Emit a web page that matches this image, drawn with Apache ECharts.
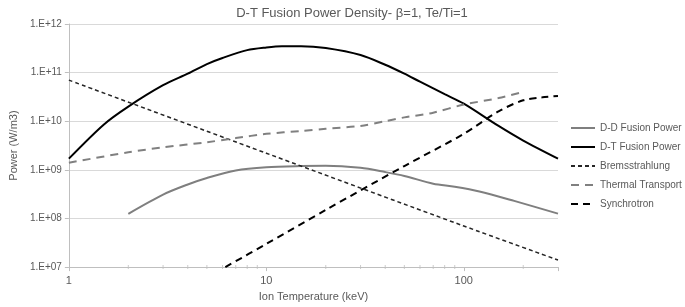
<!DOCTYPE html>
<html>
<head>
<meta charset="utf-8">
<script src="https://cdn.jsdelivr.net/npm/echarts@6/dist/echarts.min.js"></script>
<style>
  html, body { margin: 0; padding: 0; background: #fff; }
  #chart { width: 685px; height: 307px; }
</style>
</head>
<body>
<div id="chart"></div>
<script>
const FONT = '"Liberation Sans", Arial, sans-serif'

// [Ion temperature keV, power W/m3]
const ddFusion = [
  [2, 1.25e8], [3, 3.1e8], [4, 5e8], [5, 6.8e8], [7, 9.7e8], [10, 1.13e9],
  [15, 1.2e9], [20, 1.22e9], [30, 1.1e9], [40, 9e8], [50, 7.5e8], [70, 5.2e8],
  [90, 4.5e8], [120, 3.6e8], [180, 2.3e8], [300, 1.26e8],
]
const dtFusion = [
  [1, 1.7e9], [1.5, 8.5e9], [2, 2e10], [3, 5.5e10], [4, 9.5e10], [5, 1.5e11],
  [6, 2e11], [8, 2.9e11], [10, 3.3e11], [12, 3.5e11], [15, 3.5e11], [20, 3.2e11],
  [30, 2.3e11], [40, 1.45e11], [50, 9.5e10], [60, 6.5e10], [80, 3.6e10],
  [100, 2.3e10], [150, 8e9], [200, 4e9], [300, 1.7e9],
]
const bremsstrahlung = [[1, 7e10], [10, 2.2e9], [100, 7e7], [300, 1.4e7]]
const thermalTransport = [
  [1, 1.4e9], [2, 2.3e9], [3, 2.9e9], [5, 3.7e9], [7, 4.5e9], [10, 5.5e9],
  [15, 6.3e9], [20, 7e9], [30, 8e9], [40, 1e10], [50, 1.2e10], [70, 1.5e10],
  [100, 2.2e10], [150, 3e10], [200, 4e10],
]
const synchrotron = [
  [6.2, 1e7], [10, 3e7], [20, 1.5e8], [50, 1.2e9], [100, 5.5e9], [150, 1.6e10],
  [200, 2.7e10], [250, 3.1e10], [300, 3.3e10],
]
const minorTicks = [2, 3, 4, 5, 6, 7, 8, 9, 20, 30, 40, 50, 60, 70, 80, 90, 200]

const chart = echarts.init(document.getElementById('chart'))

function line(name, data, color, width, dash) {
  return {
    name,
    type: 'line',
    data,
    smooth: 0.3,
    symbol: 'none',
    lineStyle: { color, width, type: dash || 'solid' },
    itemStyle: { color },
  }
}

chart.setOption({
  animation: false,
  textStyle: { fontFamily: FONT, color: '#595959' },
  title: {
    text: 'D-T Fusion Power Density- β=1, Te/Ti=1',
    left: 347,
    top: 2,
    textAlign: 'center',
    textStyle: { fontFamily: FONT, fontSize: 13, fontWeight: 'normal', color: '#595959' },
  },
  grid: { left: 54, right: 127, top: 24, bottom: 37 },
  legend: {
    orient: 'vertical',
    left: 570,
    top: 123,
    padding: 0,
    itemWidth: 24,
    itemHeight: 12,
    itemGap: 9,
    itemStyle: { opacity: 0 },
    textStyle: { fontFamily: FONT, fontSize: 10, color: '#595959' },
    data: ['D-D Fusion Power', 'D-T Fusion Power', 'Bremsstrahlung', 'Thermal Transport', 'Synchrotron'],
  },
  xAxis: {
    type: 'log',
    logBase: 10,
    min: 1,
    max: 300,
    name: 'Ion Temperature (keV)',
    nameLocation: 'middle',
    nameGap: 22,
    nameTextStyle: { fontFamily: FONT, fontSize: 11, color: '#595959' },
    axisLine: { lineStyle: { color: '#bfbfbf' } },
    axisTick: { show: true, length: 4, lineStyle: { color: '#bfbfbf' } },
    axisLabel: {
      fontFamily: FONT, fontSize: 11, color: '#595959', margin: 8,
      formatter: v => ([1, 10, 100].includes(Math.round(v)) ? String(Math.round(v)) : ''),
    },
    splitLine: { show: false },
  },
  yAxis: {
    type: 'log',
    logBase: 10,
    min: 1e7,
    max: 1e12,
    name: 'Power (W/m3)',
    nameLocation: 'middle',
    nameGap: 46,
    nameTextStyle: { fontFamily: FONT, fontSize: 11, color: '#595959' },
    axisLine: { show: true, lineStyle: { color: '#bfbfbf' } },
    axisTick: { show: true, length: 4, lineStyle: { color: '#bfbfbf' } },
    axisLabel: {
      fontFamily: FONT, fontSize: 10, color: '#595959', margin: 7,
      formatter: v => '1.E+' + String(Math.round(Math.log10(v))).padStart(2, '0'),
    },
    splitLine: { lineStyle: { color: '#d9d9d9', width: 1 } },
  },
  series: [
    line('D-D Fusion Power', ddFusion, '#7f7f7f', 2),
    line('D-T Fusion Power', dtFusion, '#000000', 2),
    line('Bremsstrahlung', bremsstrahlung, '#262626', 1.5, [4, 3]),
    line('Thermal Transport', thermalTransport, '#808080', 2, [8, 6]),
    line('Synchrotron', synchrotron, '#000000', 2, [7, 5]),
    {
      type: 'scatter',
      silent: true,
      symbol: 'rect',
      symbolSize: [1, 4],
      itemStyle: { color: '#bfbfbf' },
      data: minorTicks.map(t => [t, 1e7]),
      clip: false,
      z: 1,
    },
  ],
})
</script>
</body>
</html>
